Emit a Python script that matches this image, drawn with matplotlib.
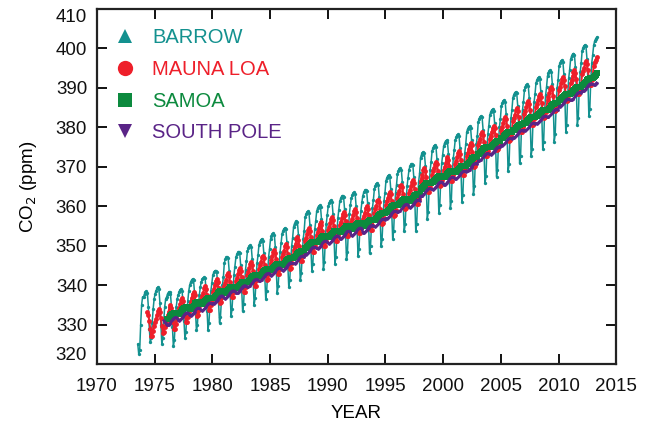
import matplotlib
matplotlib.use("Agg")
import matplotlib.pyplot as plt
from matplotlib.lines import Line2D
import numpy as np

plt.rcParams['font.family'] = ['Liberation Sans', 'DejaVu Sans']

# ---------------- data (monthly CO2, ppm) ----------------
# first month of each record: (year, month)
barrow_start = (1973, 7)
maunaloa_start = (1974, 5)
samoa_start = (1976, 1)
southpole_start = (1975, 10)

barrow_ppm = [
    325.0, 322.5, 323.5, 330.0, 335.0, 337.0,  # 1973 Jul-Dec
    337.0, 337.8, 338.2, 338.5, 338.0, 334.5, 329.0, 325.5, 326.5, 330.5, 334.0, 336.5,  # 1974
    337.8, 338.6, 339.2, 339.5, 339.0, 335.5, 330.0, 325.0, 326.5, 331.0, 334.5, 336.5,  # 1975
    337.0, 337.8, 338.2, 338.3, 337.8, 334.5, 329.5, 324.5, 326.0, 331.0, 334.5, 336.5,  # 1976
    337.5, 338.3, 338.8, 339.0, 338.6, 335.8, 331.0, 326.5, 328.0, 332.5, 336.0, 338.5,  # 1977
    340.0, 340.8, 341.3, 341.6, 341.2, 338.0, 333.0, 328.5, 330.0, 334.5, 337.5, 339.5,  # 1978
    340.8, 341.5, 341.8, 342.0, 341.7, 338.8, 333.5, 328.7, 330.5, 335.0, 338.5, 340.5,  # 1979
    342.5, 343.2, 343.6, 343.7, 343.4, 340.5, 335.5, 330.5, 332.0, 336.5, 340.0, 342.0,  # 1980
    345.7, 346.5, 347.0, 347.2, 346.8, 343.7, 338.1, 332.1, 333.9, 338.6, 342.6, 344.7,  # 1981
    347.0, 347.8, 348.3, 348.5, 348.1, 345.0, 339.4, 333.4, 335.2, 339.9, 343.9, 346.0,  # 1982
    348.6, 349.4, 349.9, 350.1, 349.7, 346.6, 341.0, 335.0, 336.8, 341.5, 345.5, 347.6,  # 1983
    350.2, 351.0, 351.5, 351.7, 351.3, 348.2, 342.6, 336.6, 338.4, 343.1, 347.1, 349.2,  # 1984
    351.6, 352.4, 352.9, 353.1, 352.7, 349.6, 344.0, 338.0, 339.8, 344.5, 348.5, 350.6,  # 1985
    353.0, 353.8, 354.3, 354.5, 354.1, 351.0, 345.4, 339.4, 341.2, 345.9, 349.9, 352.0,  # 1986
    354.8, 355.6, 356.1, 356.3, 355.9, 352.8, 347.2, 341.2, 343.0, 347.7, 351.7, 353.8,  # 1987
    357.2, 358.0, 358.5, 358.7, 358.3, 355.2, 349.6, 343.6, 345.4, 350.1, 354.1, 356.2,  # 1988
    358.7, 359.5, 360.0, 360.2, 359.8, 356.7, 351.1, 344.1, 345.9, 351.6, 355.6, 357.7,  # 1989
    360.0, 360.8, 361.3, 361.5, 361.1, 358.0, 352.4, 345.4, 347.2, 352.9, 356.9, 359.0,  # 1990
    361.2, 362.0, 362.5, 362.7, 362.3, 359.2, 353.6, 346.6, 348.4, 354.1, 358.1, 360.2,  # 1991
    362.0, 362.8, 363.3, 363.5, 363.1, 360.0, 354.4, 347.4, 349.2, 354.9, 358.9, 361.0,  # 1992
    362.7, 363.5, 364.0, 364.2, 363.8, 360.7, 355.1, 348.1, 349.9, 355.6, 359.6, 361.7,  # 1993
    364.4, 365.2, 365.7, 365.9, 365.5, 362.4, 356.8, 349.8, 351.6, 357.3, 361.3, 363.4,  # 1994
    366.4, 367.2, 367.7, 367.9, 367.5, 364.4, 358.8, 351.8, 353.6, 359.3, 363.3, 365.4,  # 1995
    368.2, 369.0, 369.5, 369.7, 369.3, 366.2, 360.6, 353.6, 355.4, 361.1, 365.1, 367.2,  # 1996
    369.3, 370.1, 370.6, 370.8, 370.4, 367.3, 361.7, 353.7, 355.5, 362.2, 366.2, 368.3,  # 1997
    372.3, 373.1, 373.6, 373.8, 373.4, 370.3, 364.7, 356.7, 358.5, 365.2, 369.2, 371.3,  # 1998
    374.0, 374.8, 375.3, 375.5, 375.1, 372.0, 366.4, 358.4, 360.2, 366.9, 370.9, 373.0,  # 1999
    375.2, 376.0, 376.5, 376.7, 376.3, 373.2, 367.6, 359.6, 361.4, 368.1, 372.1, 374.2,  # 2000
    376.7, 377.5, 378.0, 378.2, 377.8, 374.7, 369.1, 361.1, 362.9, 369.6, 373.6, 375.7,  # 2001
    378.8, 379.6, 380.1, 380.3, 379.9, 376.8, 371.2, 363.2, 365.0, 371.7, 375.7, 377.8,  # 2002
    381.4, 382.2, 382.7, 382.9, 382.5, 379.4, 373.8, 365.8, 367.6, 374.3, 378.3, 380.4,  # 2003
    383.1, 383.9, 384.4, 384.6, 384.2, 381.1, 375.5, 367.5, 369.3, 376.0, 380.0, 382.1,  # 2004
    385.4, 386.2, 386.7, 386.9, 386.5, 383.4, 377.8, 368.8, 370.6, 378.3, 382.3, 384.4,  # 2005
    387.5, 388.3, 388.8, 389.0, 388.6, 385.5, 379.9, 370.9, 372.7, 380.4, 384.4, 386.5,  # 2006
    389.4, 390.2, 390.7, 390.9, 390.5, 387.4, 381.8, 372.8, 374.6, 382.3, 386.3, 388.4,  # 2007
    391.2, 392.0, 392.5, 392.7, 392.3, 389.2, 383.6, 374.6, 376.4, 384.1, 388.1, 390.2,  # 2008
    393.0, 393.8, 394.3, 394.5, 394.1, 391.0, 385.4, 376.4, 378.2, 385.9, 389.9, 392.0,  # 2009
    395.5, 396.3, 396.8, 397.0, 396.6, 393.5, 387.9, 378.9, 380.7, 388.4, 392.4, 394.5,  # 2010
    397.2, 398.0, 398.5, 398.7, 398.3, 395.2, 389.6, 380.6, 382.4, 390.1, 394.1, 396.2,  # 2011
    399.4, 400.2, 400.7, 400.9, 400.5, 397.4, 391.8, 382.8, 384.6, 392.3, 396.3, 398.4,  # 2012
    400.8, 401.8, 402.4, 402.8,  # 2013 Jan-Apr
]

maunaloa_ppm = [
    333.1, 332.4, 330.8, 328.8, 327.0, 327.1, 328.4, 329.7,  # 1974 May-Dec
    330.7, 331.5, 332.4, 333.5, 334.0, 333.3, 331.7, 329.7, 327.9, 328.0, 329.3, 330.6,  # 1975
    331.6, 332.4, 333.3, 334.4, 334.9, 334.2, 332.6, 330.6, 328.8, 328.9, 330.2, 331.5,  # 1976
    333.4, 334.2, 335.1, 336.2, 336.7, 336.0, 334.4, 332.4, 330.6, 330.7, 332.0, 333.3,  # 1977
    335.0, 335.8, 336.7, 337.8, 338.3, 337.6, 336.0, 334.0, 332.2, 332.3, 333.6, 334.9,  # 1978
    336.4, 337.2, 338.1, 339.2, 339.7, 339.0, 337.4, 335.4, 333.6, 333.7, 335.0, 336.3,  # 1979
    338.3, 339.1, 340.0, 341.1, 341.6, 340.9, 339.3, 337.3, 335.5, 335.6, 336.9, 338.2,  # 1980
    339.7, 340.5, 341.4, 342.5, 343.0, 342.3, 340.7, 338.7, 336.9, 337.0, 338.3, 339.6,  # 1981
    341.0, 341.8, 342.7, 343.8, 344.3, 343.6, 342.0, 340.0, 338.2, 338.3, 339.6, 340.9,  # 1982
    342.6, 343.4, 344.3, 345.4, 345.9, 345.2, 343.6, 341.6, 339.8, 339.9, 341.2, 342.5,  # 1983
    344.2, 345.0, 345.9, 347.0, 347.5, 346.8, 345.2, 343.2, 341.4, 341.5, 342.8, 344.1,  # 1984
    345.6, 346.4, 347.3, 348.4, 348.9, 348.2, 346.6, 344.6, 342.8, 342.9, 344.2, 345.5,  # 1985
    347.0, 347.8, 348.7, 349.8, 350.3, 349.6, 348.0, 346.0, 344.2, 344.3, 345.6, 346.9,  # 1986
    348.8, 349.6, 350.5, 351.6, 352.1, 351.4, 349.8, 347.8, 346.0, 346.1, 347.4, 348.7,  # 1987
    351.2, 352.0, 352.9, 354.0, 354.5, 353.8, 352.2, 350.2, 348.4, 348.5, 349.8, 351.1,  # 1988
    352.7, 353.5, 354.4, 355.5, 356.0, 355.3, 353.7, 351.7, 349.9, 350.0, 351.3, 352.6,  # 1989
    354.0, 354.8, 355.7, 356.8, 357.3, 356.6, 355.0, 353.0, 351.2, 351.3, 352.6, 353.9,  # 1990
    355.2, 356.0, 356.9, 358.0, 358.5, 357.8, 356.2, 354.2, 352.4, 352.5, 353.8, 355.1,  # 1991
    356.0, 356.8, 357.7, 358.8, 359.3, 358.6, 357.0, 355.0, 353.2, 353.3, 354.6, 355.9,  # 1992
    356.7, 357.5, 358.4, 359.5, 360.0, 359.3, 357.7, 355.7, 353.9, 354.0, 355.3, 356.6,  # 1993
    358.4, 359.2, 360.1, 361.2, 361.7, 361.0, 359.4, 357.4, 355.6, 355.7, 357.0, 358.3,  # 1994
    360.4, 361.2, 362.1, 363.2, 363.7, 363.0, 361.4, 359.4, 357.6, 357.7, 359.0, 360.3,  # 1995
    362.2, 363.0, 363.9, 365.0, 365.5, 364.8, 363.2, 361.2, 359.4, 359.5, 360.8, 362.1,  # 1996
    363.3, 364.1, 365.0, 366.1, 366.6, 365.9, 364.3, 362.3, 360.5, 360.6, 361.9, 363.2,  # 1997
    366.3, 367.1, 368.0, 369.1, 369.6, 368.9, 367.3, 365.3, 363.5, 363.6, 364.9, 366.2,  # 1998
    368.0, 368.8, 369.7, 370.8, 371.3, 370.6, 369.0, 367.0, 365.2, 365.3, 366.6, 367.9,  # 1999
    369.2, 370.0, 370.9, 372.0, 372.5, 371.8, 370.2, 368.2, 366.4, 366.5, 367.8, 369.1,  # 2000
    370.7, 371.5, 372.4, 373.5, 374.0, 373.3, 371.7, 369.7, 367.9, 368.0, 369.3, 370.6,  # 2001
    372.8, 373.6, 374.5, 375.6, 376.1, 375.4, 373.8, 371.8, 370.0, 370.1, 371.4, 372.7,  # 2002
    375.4, 376.2, 377.1, 378.2, 378.7, 378.0, 376.4, 374.4, 372.6, 372.7, 374.0, 375.3,  # 2003
    377.1, 377.9, 378.8, 379.9, 380.4, 379.7, 378.1, 376.1, 374.3, 374.4, 375.7, 377.0,  # 2004
    379.4, 380.2, 381.1, 382.2, 382.7, 382.0, 380.4, 378.4, 376.6, 376.7, 378.0, 379.3,  # 2005
    381.5, 382.3, 383.2, 384.3, 384.8, 384.1, 382.5, 380.5, 378.7, 378.8, 380.1, 381.4,  # 2006
    383.4, 384.2, 385.1, 386.2, 386.7, 386.0, 384.4, 382.4, 380.6, 380.7, 382.0, 383.3,  # 2007
    385.2, 386.0, 386.9, 388.0, 388.5, 387.8, 386.2, 384.2, 382.4, 382.5, 383.8, 385.1,  # 2008
    387.0, 387.8, 388.7, 389.8, 390.3, 389.6, 388.0, 386.0, 384.2, 384.3, 385.6, 386.9,  # 2009
    389.5, 390.3, 391.2, 392.3, 392.8, 392.1, 390.5, 388.5, 386.7, 386.8, 388.1, 389.4,  # 2010
    391.2, 392.0, 392.9, 394.0, 394.5, 393.8, 392.2, 390.2, 388.4, 388.5, 389.8, 391.1,  # 2011
    393.4, 394.2, 395.1, 396.2, 396.7, 396.0, 394.4, 392.4, 390.6, 390.7, 392.0, 393.3,  # 2012
    395.5, 396.5, 397.0, 397.8,  # 2013 Jan-Apr
]

samoa_ppm = [
    331.3, 331.3, 331.5, 331.8, 332.1, 332.4, 332.7, 332.8, 332.9, 332.9, 332.9, 332.9,  # 1976
    332.8, 332.8, 333.0, 333.3, 333.6, 333.9, 334.2, 334.3, 334.4, 334.4, 334.4, 334.4,  # 1977
    334.0, 334.0, 334.2, 334.5, 334.8, 335.1, 335.4, 335.5, 335.6, 335.6, 335.6, 335.6,  # 1978
    335.2, 335.2, 335.4, 335.7, 336.0, 336.3, 336.6, 336.7, 336.8, 336.8, 336.8, 336.8,  # 1979
    336.8, 336.8, 337.0, 337.3, 337.6, 337.9, 338.2, 338.3, 338.4, 338.4, 338.4, 338.4,  # 1980
    338.0, 338.0, 338.2, 338.5, 338.8, 339.1, 339.4, 339.5, 339.6, 339.6, 339.6, 339.6,  # 1981
    339.3, 339.3, 339.5, 339.8, 340.1, 340.4, 340.7, 340.8, 340.9, 340.9, 340.9, 340.9,  # 1982
    340.9, 340.9, 341.1, 341.4, 341.7, 342.0, 342.3, 342.4, 342.5, 342.5, 342.5, 342.5,  # 1983
    342.4, 342.4, 342.6, 342.9, 343.2, 343.5, 343.8, 343.9, 344.0, 344.0, 344.0, 344.0,  # 1984
    343.8, 343.8, 344.0, 344.3, 344.6, 344.9, 345.2, 345.3, 345.4, 345.4, 345.4, 345.4,  # 1985
    345.2, 345.2, 345.4, 345.7, 346.0, 346.3, 346.6, 346.7, 346.8, 346.8, 346.8, 346.8,  # 1986
    347.0, 347.0, 347.2, 347.5, 347.8, 348.1, 348.4, 348.5, 348.6, 348.6, 348.6, 348.6,  # 1987
    349.4, 349.4, 349.6, 349.9, 350.2, 350.5, 350.8, 350.9, 351.0, 351.0, 351.0, 351.0,  # 1988
    350.9, 350.9, 351.1, 351.4, 351.7, 352.0, 352.3, 352.4, 352.5, 352.5, 352.5, 352.5,  # 1989
    352.2, 352.2, 352.4, 352.7, 353.0, 353.3, 353.6, 353.7, 353.8, 353.8, 353.8, 353.8,  # 1990
    353.4, 353.4, 353.6, 353.9, 354.2, 354.5, 354.8, 354.9, 355.0, 355.0, 355.0, 355.0,  # 1991
    354.2, 354.2, 354.4, 354.7, 355.0, 355.3, 355.6, 355.7, 355.8, 355.8, 355.8, 355.8,  # 1992
    354.9, 354.9, 355.1, 355.4, 355.7, 356.0, 356.3, 356.4, 356.5, 356.5, 356.5, 356.5,  # 1993
    356.6, 356.6, 356.8, 357.1, 357.4, 357.7, 358.0, 358.1, 358.2, 358.2, 358.2, 358.2,  # 1994
    358.6, 358.6, 358.8, 359.1, 359.4, 359.7, 360.0, 360.1, 360.2, 360.2, 360.2, 360.2,  # 1995
    360.3, 360.3, 360.5, 360.8, 361.1, 361.4, 361.7, 361.8, 361.9, 361.9, 361.9, 361.9,  # 1996
    361.4, 361.4, 361.6, 361.9, 362.2, 362.5, 362.8, 362.9, 363.0, 363.0, 363.0, 363.0,  # 1997
    364.4, 364.4, 364.6, 364.9, 365.2, 365.5, 365.8, 365.9, 366.0, 366.0, 366.0, 366.0,  # 1998
    366.1, 366.1, 366.3, 366.6, 366.9, 367.2, 367.5, 367.6, 367.7, 367.7, 367.7, 367.7,  # 1999
    367.3, 367.3, 367.5, 367.8, 368.1, 368.4, 368.7, 368.8, 368.9, 368.9, 368.9, 368.9,  # 2000
    368.7, 368.7, 368.9, 369.2, 369.5, 369.8, 370.1, 370.2, 370.3, 370.3, 370.3, 370.3,  # 2001
    370.8, 370.8, 371.0, 371.3, 371.6, 371.9, 372.2, 372.3, 372.4, 372.4, 372.4, 372.4,  # 2002
    373.3, 373.3, 373.5, 373.8, 374.1, 374.4, 374.7, 374.8, 374.9, 374.9, 374.9, 374.9,  # 2003
    375.0, 375.0, 375.2, 375.5, 375.8, 376.1, 376.4, 376.5, 376.6, 376.6, 376.6, 376.6,  # 2004
    377.2, 377.2, 377.4, 377.7, 378.0, 378.3, 378.6, 378.7, 378.8, 378.8, 378.8, 378.8,  # 2005
    379.2, 379.2, 379.4, 379.7, 380.0, 380.3, 380.6, 380.7, 380.8, 380.8, 380.8, 380.8,  # 2006
    381.0, 381.0, 381.2, 381.5, 381.8, 382.1, 382.4, 382.5, 382.6, 382.6, 382.6, 382.6,  # 2007
    382.8, 382.8, 383.0, 383.3, 383.6, 383.9, 384.2, 384.3, 384.4, 384.4, 384.4, 384.4,  # 2008
    384.5, 384.5, 384.7, 385.0, 385.3, 385.6, 385.9, 386.0, 386.1, 386.1, 386.1, 386.1,  # 2009
    386.9, 386.9, 387.1, 387.4, 387.7, 388.0, 388.3, 388.4, 388.5, 388.5, 388.5, 388.5,  # 2010
    388.6, 388.6, 388.8, 389.1, 389.4, 389.7, 390.0, 390.1, 390.2, 390.2, 390.2, 390.2,  # 2011
    390.8, 390.8, 391.0, 391.3, 391.6, 391.9, 392.2, 392.3, 392.4, 392.4, 392.4, 392.4,  # 2012
    392.8, 393.0, 393.3, 393.7,  # 2013 Jan-Apr
]

southpole_ppm = [
    331.0, 330.7, 330.3,  # 1975 Oct-Dec
    329.9, 329.8, 330.0, 330.2, 330.5, 330.8, 331.2, 331.5, 331.7, 331.8, 331.8, 331.6,  # 1976
    331.1, 331.0, 331.2, 331.4, 331.7, 332.0, 332.4, 332.7, 332.9, 333.0, 333.0, 332.8,  # 1977
    332.3, 332.2, 332.4, 332.6, 332.9, 333.2, 333.6, 333.9, 334.1, 334.2, 334.2, 334.0,  # 1978
    333.6, 333.5, 333.7, 333.9, 334.2, 334.5, 334.9, 335.2, 335.4, 335.5, 335.5, 335.3,  # 1979
    335.4, 335.3, 335.5, 335.7, 336.0, 336.3, 336.7, 337.0, 337.2, 337.3, 337.3, 337.1,  # 1980
    336.7, 336.6, 336.8, 337.0, 337.3, 337.6, 338.0, 338.3, 338.5, 338.6, 338.6, 338.4,  # 1981
    338.0, 337.9, 338.1, 338.3, 338.6, 338.9, 339.3, 339.6, 339.8, 339.9, 339.9, 339.7,  # 1982
    339.6, 339.5, 339.7, 339.9, 340.2, 340.5, 340.9, 341.2, 341.4, 341.5, 341.5, 341.3,  # 1983
    341.1, 341.0, 341.2, 341.4, 341.7, 342.0, 342.4, 342.7, 342.9, 343.0, 343.0, 342.8,  # 1984
    342.5, 342.4, 342.6, 342.8, 343.1, 343.4, 343.8, 344.1, 344.3, 344.4, 344.4, 344.2,  # 1985
    343.8, 343.7, 343.9, 344.1, 344.4, 344.7, 345.1, 345.4, 345.6, 345.7, 345.7, 345.5,  # 1986
    345.5, 345.4, 345.6, 345.8, 346.1, 346.4, 346.8, 347.1, 347.3, 347.4, 347.4, 347.2,  # 1987
    347.8, 347.7, 347.9, 348.1, 348.4, 348.7, 349.1, 349.4, 349.6, 349.7, 349.7, 349.5,  # 1988
    349.3, 349.2, 349.4, 349.6, 349.9, 350.2, 350.6, 350.9, 351.1, 351.2, 351.2, 351.0,  # 1989
    350.6, 350.5, 350.7, 350.9, 351.2, 351.5, 351.9, 352.2, 352.4, 352.5, 352.5, 352.3,  # 1990
    351.8, 351.7, 351.9, 352.1, 352.4, 352.7, 353.1, 353.4, 353.6, 353.7, 353.7, 353.5,  # 1991
    352.6, 352.5, 352.7, 352.9, 353.2, 353.5, 353.9, 354.2, 354.4, 354.5, 354.5, 354.3,  # 1992
    353.3, 353.2, 353.4, 353.6, 353.9, 354.2, 354.6, 354.9, 355.1, 355.2, 355.2, 355.0,  # 1993
    354.9, 354.8, 355.0, 355.2, 355.5, 355.8, 356.2, 356.5, 356.7, 356.8, 356.8, 356.6,  # 1994
    356.9, 356.8, 357.0, 357.2, 357.5, 357.8, 358.2, 358.5, 358.7, 358.8, 358.8, 358.6,  # 1995
    358.6, 358.5, 358.7, 358.9, 359.2, 359.5, 359.9, 360.2, 360.4, 360.5, 360.5, 360.3,  # 1996
    359.7, 359.6, 359.8, 360.0, 360.3, 360.6, 361.0, 361.3, 361.5, 361.6, 361.6, 361.4,  # 1997
    362.6, 362.5, 362.7, 362.9, 363.2, 363.5, 363.9, 364.2, 364.4, 364.5, 364.5, 364.3,  # 1998
    364.3, 364.2, 364.4, 364.6, 364.9, 365.2, 365.6, 365.9, 366.1, 366.2, 366.2, 366.0,  # 1999
    365.5, 365.4, 365.6, 365.8, 366.1, 366.4, 366.8, 367.1, 367.3, 367.4, 367.4, 367.2,  # 2000
    367.0, 366.9, 367.1, 367.3, 367.6, 367.9, 368.3, 368.6, 368.8, 368.9, 368.9, 368.7,  # 2001
    369.0, 368.9, 369.1, 369.3, 369.6, 369.9, 370.3, 370.6, 370.8, 370.9, 370.9, 370.7,  # 2002
    371.5, 371.4, 371.6, 371.8, 372.1, 372.4, 372.8, 373.1, 373.3, 373.4, 373.4, 373.2,  # 2003
    373.2, 373.1, 373.3, 373.5, 373.8, 374.1, 374.5, 374.8, 375.0, 375.1, 375.1, 374.9,  # 2004
    375.4, 375.3, 375.5, 375.7, 376.0, 376.3, 376.7, 377.0, 377.2, 377.3, 377.3, 377.1,  # 2005
    377.4, 377.3, 377.5, 377.7, 378.0, 378.3, 378.7, 379.0, 379.2, 379.3, 379.3, 379.1,  # 2006
    379.2, 379.1, 379.3, 379.5, 379.8, 380.1, 380.5, 380.8, 381.0, 381.1, 381.1, 380.9,  # 2007
    381.0, 380.9, 381.1, 381.3, 381.6, 381.9, 382.3, 382.6, 382.8, 382.9, 382.9, 382.7,  # 2008
    382.7, 382.6, 382.8, 383.0, 383.3, 383.6, 384.0, 384.3, 384.5, 384.6, 384.6, 384.4,  # 2009
    385.3, 385.2, 385.4, 385.6, 385.9, 386.2, 386.6, 386.9, 387.1, 387.2, 387.2, 387.0,  # 2010
    387.0, 386.9, 387.1, 387.3, 387.6, 387.9, 388.3, 388.6, 388.8, 388.9, 388.9, 388.7,  # 2011
    389.2, 389.1, 389.3, 389.5, 389.8, 390.1, 390.5, 390.8, 391.0, 391.1, 391.1, 390.9,  # 2012
    390.8, 390.8, 391.0, 391.3,  # 2013 Jan-Apr
]

station_names = ["BARROW", "MAUNA LOA", "SAMOA", "SOUTH POLE"]
x_ticks = [1970, 1975, 1980, 1985, 1990, 1995, 2000, 2005, 2010, 2015]
y_ticks = [320, 330, 340, 350, 360, 370, 380, 390, 400, 410]


def month_axis(start, n):
    y0, m0 = start
    return y0 + (m0 - 1 + np.arange(n) + 0.5) / 12.0


# ---------------- figure ----------------
fig = plt.figure(figsize=(6.46, 4.26), dpi=100)
ax = fig.add_axes([0.150, 0.1455, 0.804, 0.8335])

c_brw = "#13918f"
c_mlo = "#ee1f2a"
c_smo = "#0c8a3e"
c_spo = "#5a2487"

ax.plot(month_axis(barrow_start, len(barrow_ppm)), barrow_ppm, color=c_brw,
        lw=1.1, marker='o', ms=2.4, mew=0, zorder=2)
ax.plot(month_axis(maunaloa_start, len(maunaloa_ppm)), maunaloa_ppm, color=c_mlo,
        lw=1.4, marker='o', ms=3.5, mew=0, zorder=3)
ax.plot(month_axis(samoa_start, len(samoa_ppm)), samoa_ppm, color=c_smo,
        lw=2.6, marker='s', ms=4.0, mew=0, zorder=4)
ax.plot(month_axis(southpole_start, len(southpole_ppm)), southpole_ppm, color=c_spo,
        lw=1.8, marker='o', ms=2.0, mew=0, zorder=5)

ax.set_xlim(1970, 2015)
ax.set_ylim(320, 410)
ax.set_xticks(x_ticks)
ax.set_yticks(y_ticks)
ax.tick_params(direction='in', length=7, width=1.4, top=True, right=True,
               labelsize=13.5, colors='#111111')
ax.tick_params(axis='x', pad=10)
ax.tick_params(axis='y', pad=7)
for s in ax.spines.values():
    s.set_linewidth(1.6)
    s.set_color('#222222')

ylabs = ax.get_yticklabels()
ylabs[-1].set_va('top')
ylabs[0].set_va('bottom')

ax.set_xlabel("YEAR", fontsize=13.5, labelpad=7)
ax.set_ylabel("CO$_2$ (ppm)", fontsize=13.5, labelpad=12)

handles = [
    Line2D([], [], ls='none', marker='^', ms=10, color=c_brw, mew=0),
    Line2D([], [], ls='none', marker='o', ms=11, color=c_mlo, mew=0),
    Line2D([], [], ls='none', marker='s', ms=10, color=c_smo, mew=0),
    Line2D([], [], ls='none', marker='v', ms=10, color=c_spo, mew=0),
]
ax.legend(handles, station_names, loc='upper left', bbox_to_anchor=(0.008, 0.985),
          frameon=False, fontsize=14.5, labelcolor=[c_brw, c_mlo, c_smo, c_spo],
          handlelength=1.0, handletextpad=0.85, labelspacing=0.63, borderaxespad=0.3)

fig.savefig("out.png", dpi=100)
